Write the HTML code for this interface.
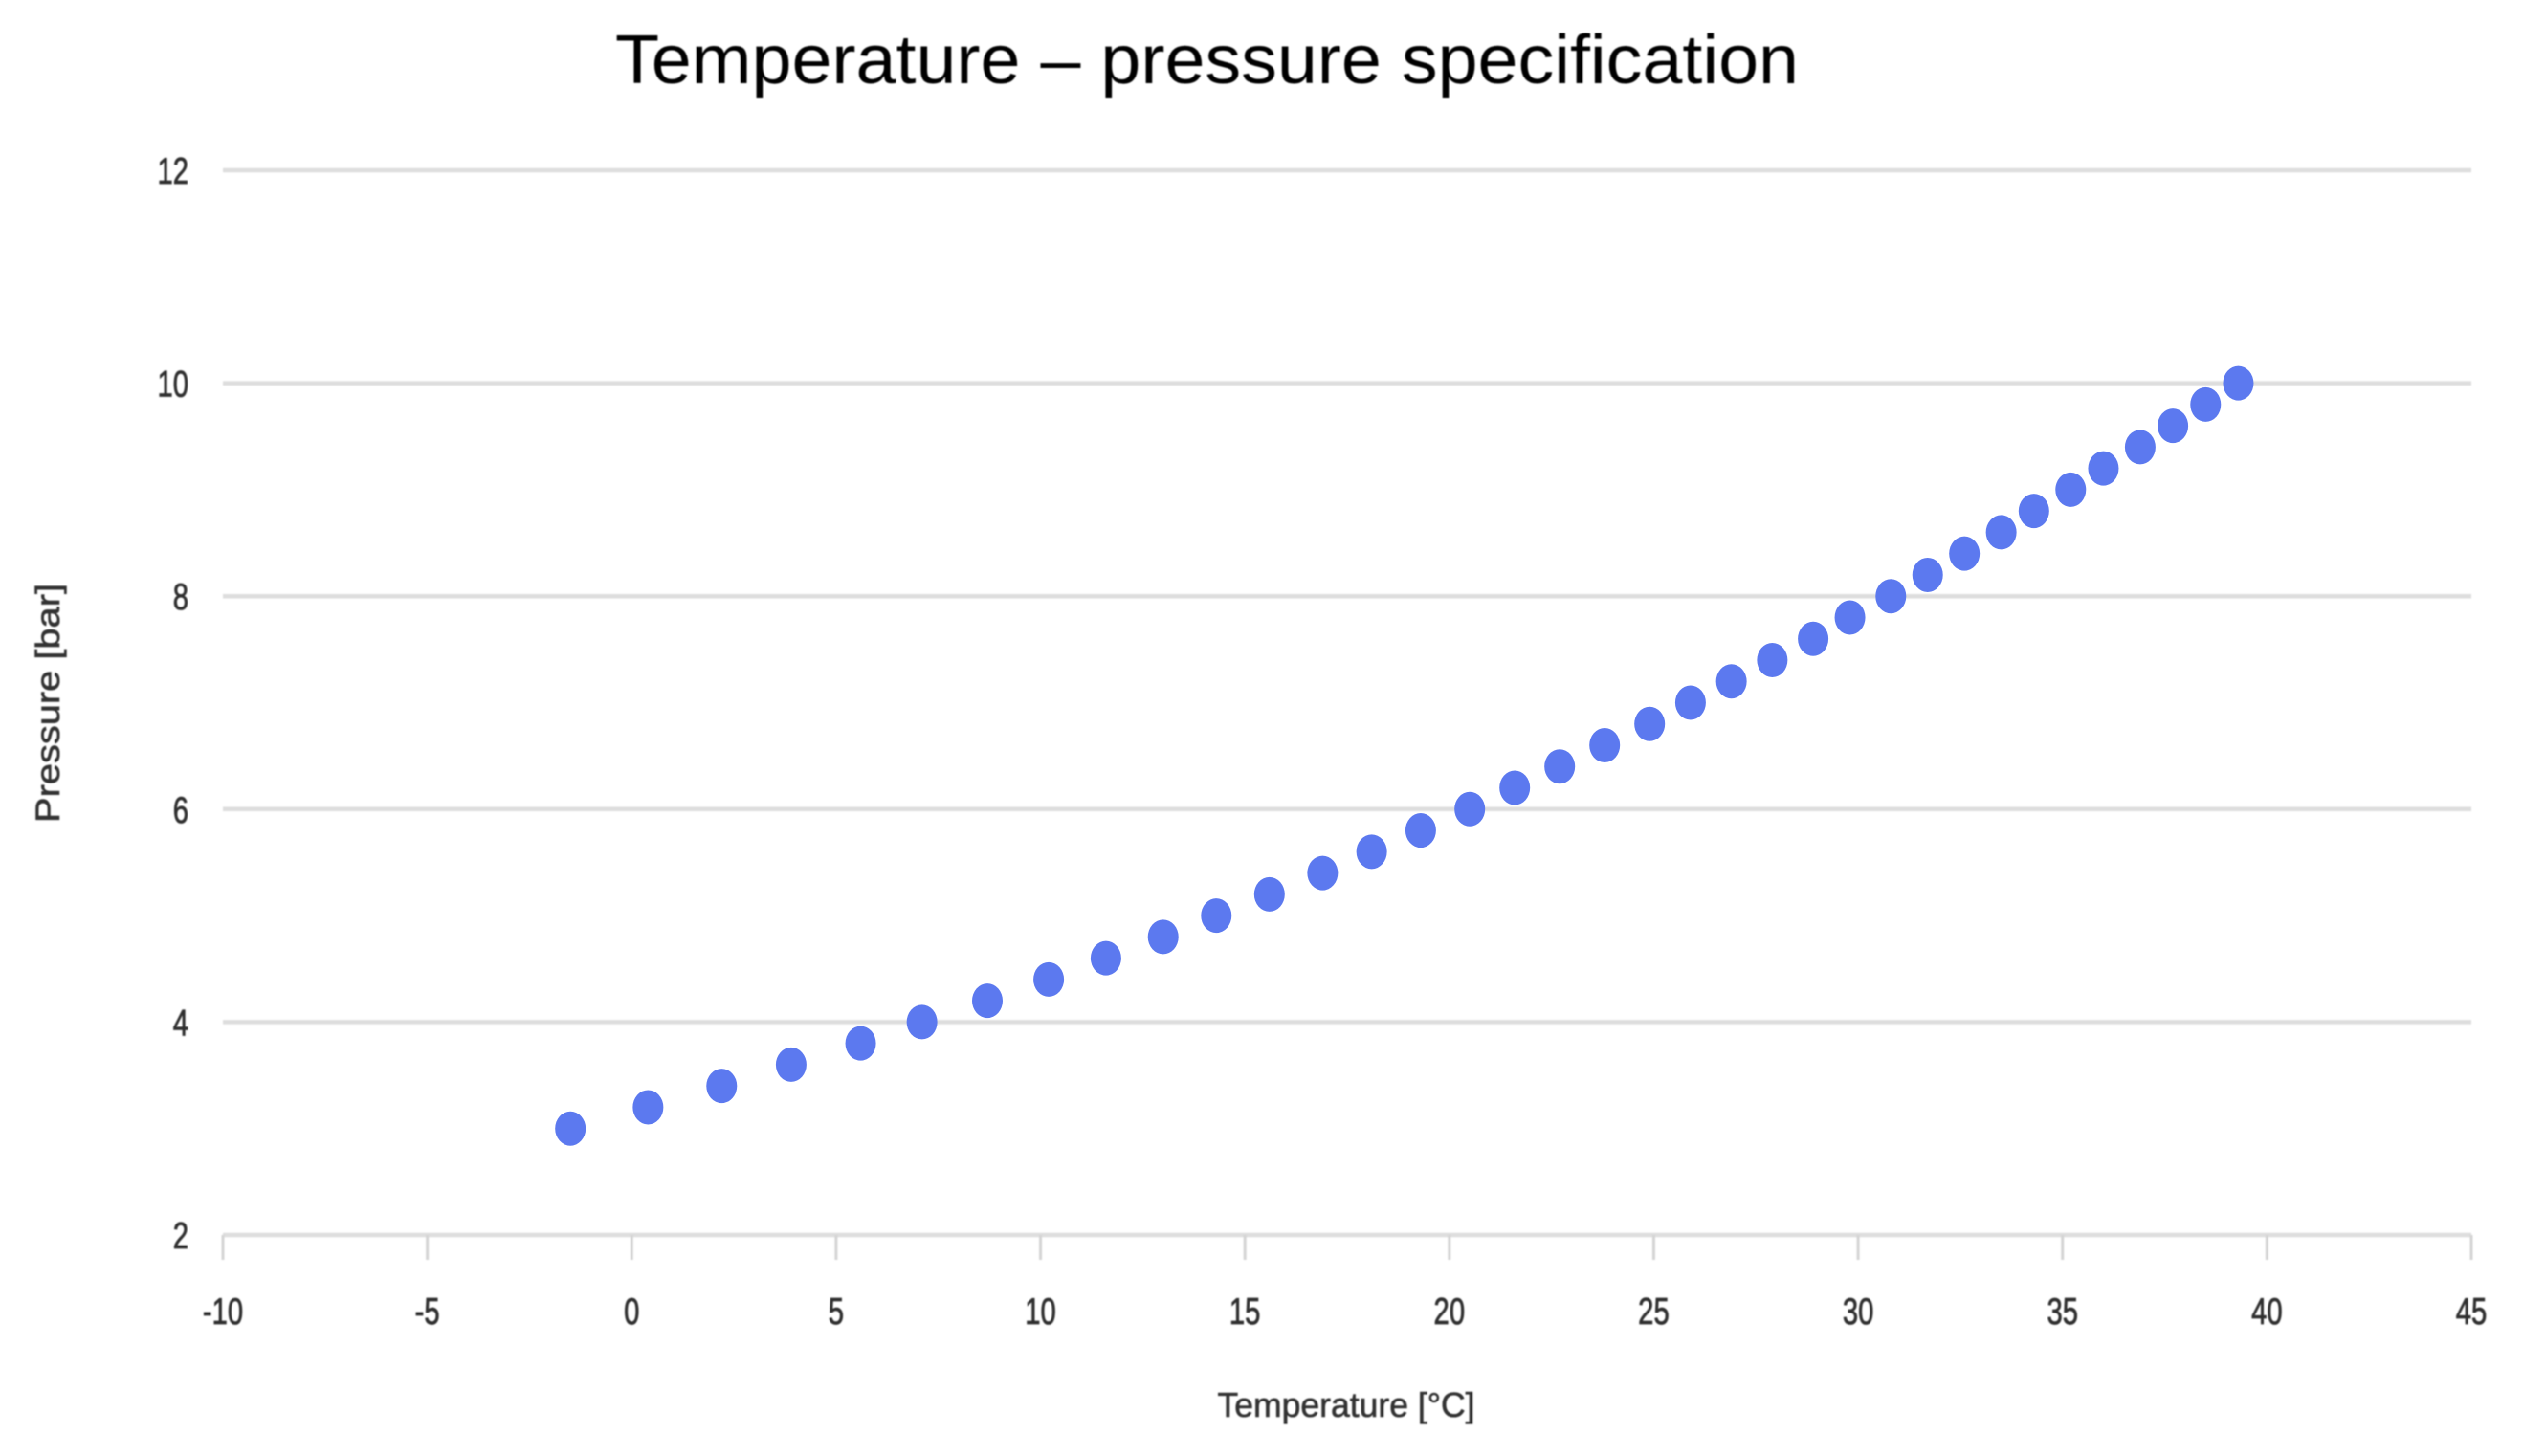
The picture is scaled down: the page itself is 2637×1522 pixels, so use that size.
<!DOCTYPE html>
<html lang="en">
<head>
<meta charset="utf-8">
<title>Temperature – pressure specification</title>
<style>
  html, body { margin: 0; padding: 0; background: #ffffff; }
  body { width: 2637px; height: 1522px; overflow: hidden; }
  svg { display: block; }
  text { font-family: "Liberation Sans", sans-serif; }
</style>
</head>
<body>
<svg id="chart" xmlns="http://www.w3.org/2000/svg" width="2637" height="1522" viewBox="0 0 2637 1522">
  <defs>
    <filter id="soft" x="-5%" y="-5%" width="110%" height="110%"><feGaussianBlur stdDeviation="0.9"/></filter>
  </defs>
  <rect x="0" y="0" width="2637" height="1522" fill="#ffffff"/>
  <text x="643" y="87" font-size="72" fill="#000000" textLength="1237" lengthAdjust="spacingAndGlyphs" filter="url(#soft)">Temperature – pressure specification</text>
  <g id="grid" filter="url(#soft)"></g>
  <g id="xaxis" filter="url(#soft)"></g>
  <g id="yaxis" filter="url(#soft)"></g>
  <text x="1407" y="1481" font-size="36" fill="#303030" stroke="#303030" stroke-width="0.6" text-anchor="middle" textLength="269" lengthAdjust="spacingAndGlyphs" filter="url(#soft)">Temperature [°C]</text>
  <text transform="translate(62,735) rotate(-90)" font-size="35" fill="#303030" stroke="#303030" stroke-width="0.6" text-anchor="middle" textLength="250" lengthAdjust="spacingAndGlyphs" filter="url(#soft)">Pressure [bar]</text>
  <g id="points"></g>
</svg>
<script>
const xTicks = [-10, -5, 0, 5, 10, 15, 20, 25, 30, 35, 40, 45];
const yTicks = [2, 4, 6, 8, 10, 12];
const temperature = [-1.5, 0.4, 2.2, 3.9, 5.6, 7.1, 8.7, 10.2, 11.6, 13, 14.3, 15.6, 16.9, 18.1, 19.3, 20.5, 21.6, 22.7, 23.8, 24.9, 25.9, 26.9, 27.9, 28.9, 29.8, 30.8, 31.7, 32.6, 33.5, 34.3, 35.2, 36, 36.9, 37.7, 38.5, 39.3];
const pressure = [3, 3.2, 3.4, 3.6, 3.8, 4, 4.2, 4.4, 4.6, 4.8, 5, 5.2, 5.4, 5.6, 5.8, 6, 6.2, 6.4, 6.6, 6.8, 7, 7.2, 7.4, 7.6, 7.8, 8, 8.2, 8.4, 8.6, 8.8, 9, 9.2, 9.4, 9.6, 9.8, 10];

const NS = 'http://www.w3.org/2000/svg';
const plotLeft = 233, plotRight = 2583, plotTop = 178, plotBottom = 1291;
const xMin = -10, xMax = 45, yMin = 2, yMax = 12;
function xScale(v) { return plotLeft + (v - xMin) / (xMax - xMin) * (plotRight - plotLeft); }
function yScale(v) { return plotBottom - (v - yMin) / (yMax - yMin) * (plotBottom - plotTop); }
function make(tag, props, parent) {
  const el = document.createElementNS(NS, tag);
  for (const k in props) el.setAttribute(k, props[k]);
  parent.appendChild(el);
  return el;
}
const grid = document.getElementById('grid');
const xaxis = document.getElementById('xaxis');
const yaxis = document.getElementById('yaxis');
const points = document.getElementById('points');

yTicks.forEach(function (t) {
  const line = make('line', { x1: plotLeft, x2: plotRight, y1: yScale(t), y2: yScale(t), stroke: '#dddddd', 'stroke-width': 4.5 }, grid);
  
  
  const label = make('text', { transform: 'translate(197,' + (yScale(t) + 14) + ') scale(0.75,1)', 'font-size': 39, fill: '#2e2e2e', stroke: '#2e2e2e', 'stroke-width': 0.8, 'text-anchor': 'end' }, yaxis);
  label.textContent = t;
  
  
});

xTicks.forEach(function (t) {
  const tick = make('line', { x1: xScale(t), x2: xScale(t), y1: plotBottom, y2: plotBottom + 26, stroke: '#d4d4d4', 'stroke-width': 3 }, xaxis);
  
  
  const label = make('text', { transform: 'translate(' + xScale(t) + ',1384) scale(0.75,1)', 'font-size': 39, fill: '#2e2e2e', stroke: '#2e2e2e', 'stroke-width': 0.8, 'text-anchor': 'middle' }, xaxis);
  label.textContent = t;
  
  
});

temperature.forEach(function (t, i) {
  const dot = make('ellipse', { cx: xScale(t), cy: yScale(pressure[i]), rx: 16, ry: 18, fill: '#5c79ef' }, points);
  
  
});
</script>
</body>
</html>
